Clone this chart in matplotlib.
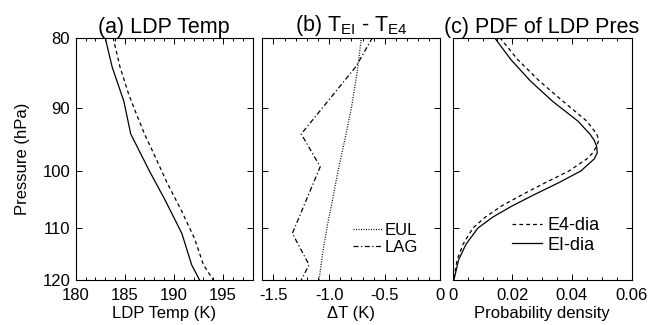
import numpy as np
import matplotlib
matplotlib.use('Agg')
import matplotlib.pyplot as plt
from matplotlib.ticker import MultipleLocator, NullLocator, FixedLocator

plt.rcParams['font.family'] = ['Liberation Sans', 'DejaVu Sans']
plt.rcParams['mathtext.fontset'] = 'custom'
plt.rcParams['mathtext.rm'] = 'Liberation Sans'

# (a) LDP temperature profiles
p_ei = [80, 84, 89, 94, 100, 105, 111, 117, 120]
t_ei = [183.0, 183.7, 184.9, 185.6, 187.5, 189.1, 190.8, 191.8, 192.6]
p_e4 = [80, 84, 88, 91, 94, 97, 102, 107, 112, 117, 120]
t_e4 = [183.8, 184.5, 185.4, 186.2, 187.0, 187.9, 189.3, 190.8, 192.1, 193.0, 194.0]

# (b) temperature differences
p_eul = [80, 85, 90, 95, 100, 105, 110, 115, 120]
dt_eul = [-0.71, -0.75, -0.80, -0.86, -0.92, -0.97, -1.02, -1.06, -1.09]
p_lag = [80, 84, 94, 99.3, 111, 117, 120]
dt_lag = [-0.61, -0.76, -1.25, -1.08, -1.33, -1.18, -1.25]

# (c) PDF of LDP pressure
p_pdf = [80, 83, 86, 89, 92, 94, 95, 96, 97, 98, 100, 102, 104, 106, 108, 110, 113, 116, 120]
pdf_ei = [0.0140, 0.0195, 0.0260, 0.0335, 0.0420, 0.0460, 0.0475, 0.0483, 0.0485, 0.0475,
          0.0430, 0.0355, 0.0275, 0.0200, 0.0135, 0.0085, 0.0045, 0.0020, 0.0004]
pdf_e4 = [0.0158, 0.0218, 0.0290, 0.0370, 0.0450, 0.0483, 0.0490, 0.0482, 0.0470, 0.0450,
          0.0390, 0.0310, 0.0235, 0.0165, 0.0110, 0.0068, 0.0035, 0.0015, 0.0003]

fig = plt.figure(figsize=(6.6, 3.25), dpi=100)
bot, h = 0.1385, 0.746
ax1 = fig.add_axes([0.1147, bot, 0.268, h])
ax2 = fig.add_axes([0.3974, bot, 0.270, h])
ax3 = fig.add_axes([0.6859, bot, 0.271, h])

lw = 0.9
ax1.plot(t_ei, p_ei, 'k-', lw=lw)
ax1.plot(t_e4, p_e4, 'k', lw=lw, dashes=(3, 2.5))
ax2.plot(dt_eul, p_eul, 'k', lw=lw, dashes=(0.8, 1.2), label='EUL')
ax2.plot(dt_lag, p_lag, 'k', lw=lw, dashes=(4, 2, 1, 2), label='LAG')
ax3.plot(pdf_e4, p_pdf, 'k', lw=lw, dashes=(3, 2.5), label='E4-dia')
ax3.plot(pdf_ei, p_pdf, 'k-', lw=lw, label='EI-dia')

for ax in (ax1, ax2, ax3):
    ax.set_yscale('log')
    ax.set_ylim(120, 80)
    ax.yaxis.set_major_locator(FixedLocator([80, 90, 100, 110, 120]))
    ax.yaxis.set_minor_locator(NullLocator())
    ax.tick_params(which='both', direction='in', top=True, right=True, labelsize=12, width=0.7)
    ax.tick_params(which='major', length=4.5)
    ax.tick_params(axis='x', which='major', pad=6)
    ax.tick_params(axis='y', which='major', pad=4)
    ax.tick_params(which='minor', length=2.2)
    for s in ax.spines.values():
        s.set_linewidth(0.8)

ax1.set_yticklabels(['80', '90', '100', '110', '120'])
ax2.set_yticklabels([])
ax3.set_yticklabels([])

ax1.set_xlim(180, 198)
ax1.xaxis.set_major_locator(MultipleLocator(5))
ax1.xaxis.set_minor_locator(MultipleLocator(1))
ax1.set_xlabel('LDP Temp (K)', fontsize=12, labelpad=2)
ax1.set_ylabel('Pressure (hPa)', fontsize=12, labelpad=9)
ax1.set_title('(a) LDP Temp', fontsize=15.5, pad=3)

ax2.set_xlim(-1.6, 0)
ax2.set_xticks([-1.5, -1.0, -0.5, 0])
ax2.set_xticklabels(['-1.5', '-1.0', '-0.5', '0'])
ax2.xaxis.set_minor_locator(MultipleLocator(0.1))
ax2.set_xlabel('ΔT (K)', fontsize=12, labelpad=2)
ax2.set_title(r'(b) T$_{\mathrm{EI}}$ - T$_{\mathrm{E4}}$', fontsize=15.5, pad=3)
ax2.legend(loc='upper left', bbox_to_anchor=(0.508, 0.235), frameon=False, fontsize=12,
           handlelength=1.75, handletextpad=0.18, labelspacing=0.1, borderpad=0,
           borderaxespad=0)

ax3.set_xlim(0, 0.06)
ax3.set_xticks([0, 0.02, 0.04, 0.06])
ax3.set_xticklabels(['0', '0.02', '0.04', '0.06'])
ax3.xaxis.set_minor_locator(MultipleLocator(0.005))
ax3.set_xlabel('Probability density', fontsize=12, labelpad=2)
ax3.set_title('(c) PDF of LDP Pres', fontsize=15.5, pad=3)
ax3.legend(loc='upper left', bbox_to_anchor=(0.331, 0.26), frameon=False, fontsize=13,
           handlelength=1.65, handletextpad=0.33, labelspacing=0.15, borderpad=0,
           borderaxespad=0)

fig.savefig('out.png', dpi=100)
